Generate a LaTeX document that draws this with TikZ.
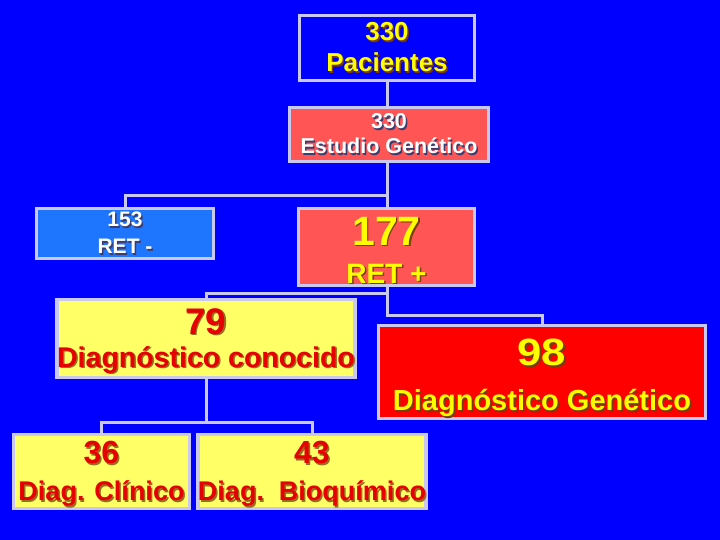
\documentclass[tikz,border=0pt]{standalone}
\usepackage{fontspec}
\usepackage{graphicx}
\setmainfont{Liberation Sans}
\usetikzlibrary{positioning}

\definecolor{bgblue}{RGB}{0,0,255}
\definecolor{edge}{RGB}{200,200,240}
\definecolor{retneg}{RGB}{30,118,255}
\definecolor{salmon}{RGB}{255,85,85}
\definecolor{lemon}{RGB}{255,255,102}
\definecolor{scarlet}{RGB}{255,0,0}
\definecolor{redtxt}{RGB}{230,0,0}
\definecolor{yeltxt}{RGB}{255,255,0}
\definecolor{redshd}{RGB}{150,110,30}
\definecolor{yelshd}{RGB}{120,60,0}
\definecolor{whtshd}{RGB}{60,60,110}

\newcommand{\shtxt}[3]{\rlap{\kern1.5pt\raisebox{-1.5pt}{\textcolor{#2}{#3}}}\textcolor{#1}{#3}}
\newcommand{\fs}[1]{\fontsize{#1}{#1}\selectfont}

\tikzset{
  box/.style={draw=edge, line width=3.5pt, align=center, inner sep=0pt},
  link/.style={draw=edge, line width=3pt},
}

\begin{document}
\begin{tikzpicture}[x=1pt, y=-1pt]

    \fill[bgblue] (0,0) rectangle (720,540);
    \useasboundingbox (0,0) rectangle (720,540);

    \node[box, fill=bgblue, minimum width=175pt, minimum height=65pt, font=\fontsize{26}{31}\selectfont\bfseries] (pac) at (387,48)
        {\shtxt{yeltxt}{yelshd}{330}\\\shtxt{yeltxt}{yelshd}{Pacientes}};
    \node[box, fill=salmon, minimum width=199pt, minimum height=54pt, font=\fontsize{21.5}{25}\selectfont\bfseries] (est) at (389,134.5)
        {\shtxt{white}{whtshd}{330}\\\shtxt{white}{whtshd}{Estudio Genético}};
    \node[box, fill=retneg, minimum width=177pt, minimum height=50pt, font=\fontsize{21}{27}\selectfont\bfseries] (retm) at (125,233.5)
        {\shtxt{white}{whtshd}{153}\\\shtxt{white}{whtshd}{RET -}};
    \node[box, fill=salmon, minimum width=176pt, minimum height=77pt, font=\fontsize{28}{38}\selectfont\bfseries] (retp) at (386.5,247)
        {\rule{0pt}{36pt}\shtxt{yeltxt}{yelshd}{\fs{41}177}\\\shtxt{yeltxt}{yelshd}{\fs{28}RET +}};
    \node[box, fill=lemon, minimum width=295pt, minimum height=78pt, font=\fontsize{28.5}{33}\selectfont\bfseries] (conoc) at (206,338.5)
        {\rule{0pt}{32pt}\shtxt{redtxt}{redshd}{\fs{37}79}\\\shtxt{redtxt}{redshd}{Diagnóstico conocido}};
    \node[box, fill=scarlet, minimum width=327pt, minimum height=89pt, font=\fontsize{29}{45}\selectfont\bfseries] (gen) at (542,372)
        {\rule{0pt}{40pt}\shtxt{yeltxt}{yelshd}{\fs{38}\scalebox{1.15}[1]{98}}\\\shtxt{yeltxt}{yelshd}{Diagnóstico Genético}};
    \node[box, fill=lemon, minimum width=176pt, minimum height=74pt, font=\fontsize{27}{37}\selectfont\bfseries] (clin) at (101.5,471.5)
        {\rule{0pt}{29pt}\shtxt{redtxt}{redshd}{\fs{32}36}\\\shtxt{redtxt}{redshd}{Diag. Clínico}};
    \node[box, fill=lemon, minimum width=221pt, minimum height=74pt, font=\fontsize{27}{37}\selectfont\bfseries] (bioq) at (312,471.5)
        {\rule{0pt}{29pt}\shtxt{redtxt}{redshd}{\fs{32}43}\\\shtxt{redtxt}{redshd}{Diag.\ \ Bioquímico}};

    \coordinate (split1) at (387,196);
    \coordinate (split2) at (387,293);
    \coordinate (split3) at (387,315);
    \coordinate (split4) at (206,422);

    \draw[link] (pac.south) -- (est.north -| pac.south);
    \draw[link] (est.south -| split1) -- (split1) -| (retm.north);
    \draw[link] (split1) -- (retp.north -| split1);
    \draw[link] (retp.south -| split2) -- (split2) -| (conoc.north);
    \draw[link] (split2) -- (split3) -| (gen.north);
    \draw[link] (conoc.south) -- (split4) -| (clin.north);
    \draw[link] (split4) -| (bioq.north);

\end{tikzpicture}
\end{document}
